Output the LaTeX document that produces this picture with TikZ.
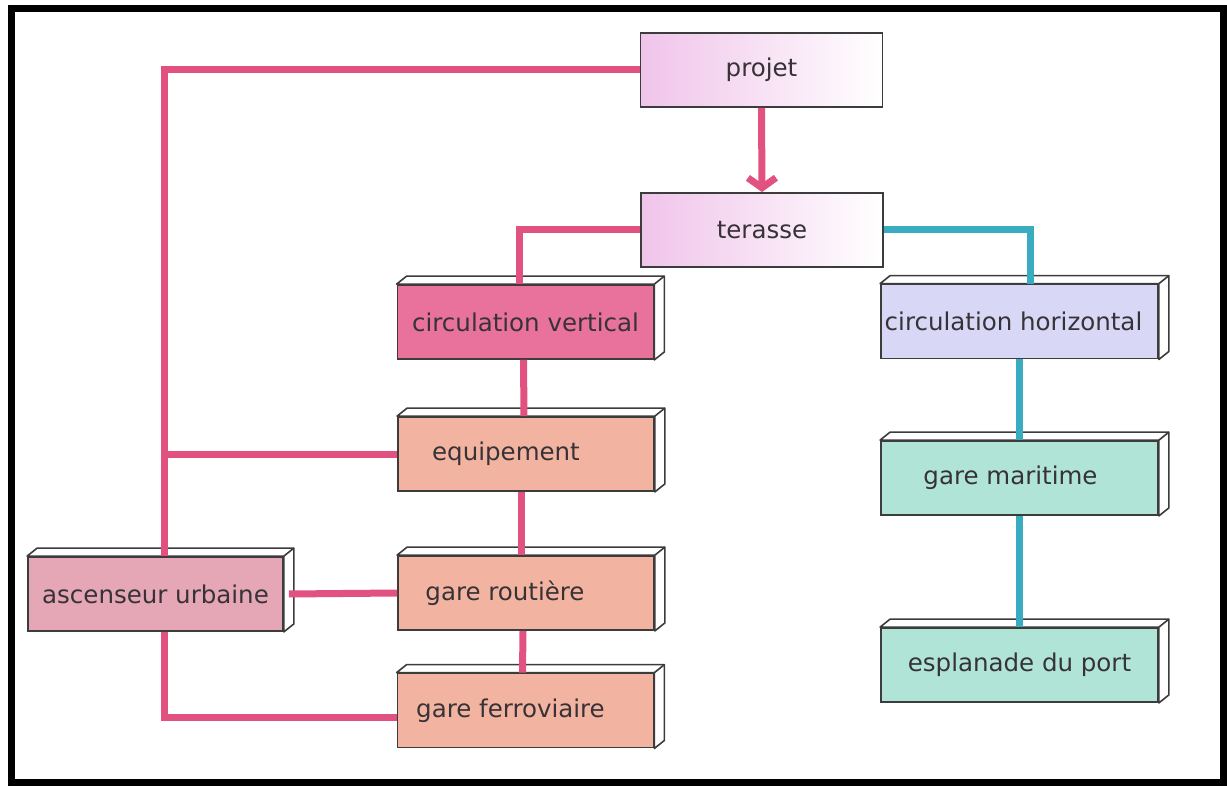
\documentclass[tikz,border=0pt]{standalone}
\usepackage{fontspec}
\setmainfont{DejaVu Sans}
\usepackage{xcolor}
\usetikzlibrary{arrows.meta,calc}

\definecolor{lienrose}{RGB}{226,82,128}
\definecolor{lienbleu}{RGB}{58,172,192}
\definecolor{bord}{RGB}{60,60,60}
\definecolor{texte}{RGB}{55,50,55}
\definecolor{rosetete}{RGB}{240,196,234}
\definecolor{rosevif}{RGB}{232,114,156}
\definecolor{peche}{RGB}{242,180,160}
\definecolor{roseasc}{RGB}{229,166,182}
\definecolor{lavande}{RGB}{216,216,246}
\definecolor{menthe}{RGB}{176,228,214}

% faces of the 3d blocks
\newcommand\relief[1]{%
  \draw[face] (#1.north west) -- ($(#1.north west)+(10pt,8pt)$) -- ($(#1.north east)+(10pt,8pt)$)
    -- ($(#1.south east)+(10pt,8pt)$) -- (#1.south east) -- (#1.north east) -- cycle;
  \draw[face] (#1.north east) -- ($(#1.north east)+(10pt,8pt)$);}

\begin{document}
\begin{tikzpicture}[x=1pt, y=-1pt,
  bloc/.style={draw=bord, line width=1.8pt, inner sep=0pt, minimum width=256pt, minimum height=74pt,
    text=texte, font=\fontsize{24.5}{28}\selectfont},
  tete/.style={bloc, minimum width=242pt, left color=rosetete, right color=white},
  face/.style={draw=bord, line width=1.6pt, fill=white, line join=round},
  lien/.style={draw=lienrose, line width=7pt},
  lienb/.style={draw=lienbleu, line width=7pt}]
\useasboundingbox (0,0) rectangle (1227,786);
\draw[line width=7pt] (11,9) rectangle (1223.5,782.5);

\node[tete] (projet) at (761.5,70) {projet};
\node[tete] (terasse) at (762,230) {terasse};
\node[bloc, fill=rosevif] (cvert) at (525.5,322) {circulation vertical};
\node[bloc, fill=peche] (equip) at (526,454) {equipement\hspace*{40pt}};
\node[bloc, fill=peche] (groutiere) at (526,593) {gare routière\hspace*{42pt}};
\node[bloc, fill=peche] (gferro) at (525.5,710.5) {gare ferroviaire\hspace*{30pt}};
\node[bloc, fill=roseasc, minimum width=255pt] (ascenseur) at (155.5,594) {ascenseur urbaine};
\node[bloc, fill=lavande, minimum width=277pt] (chor) at (1019.5,321.5) {circulation horizontal\hspace*{12pt}};
\node[bloc, fill=menthe, minimum width=277pt] (gmaritime) at (1019.5,478) {gare maritime\hspace*{18pt}};
\node[bloc, fill=menthe, minimum width=277pt] (esplanade) at (1019.5,665) {esplanade du port};

\relief{cvert}
\relief{equip}
\relief{groutiere}
\relief{gferro}
\relief{ascenseur}
\relief{chor}
\relief{gmaritime}
\relief{esplanade}

\draw[lien] (projet.west) -| coordinate[pos=.5] (coin) ([xshift=8.5pt]ascenseur.north);
\draw[lien, -{Straight Barb[length=10pt,width=28pt]}] (projet.south) -- (terasse.north);
\draw[lien] (terasse.west) -| ([xshift=-6.5pt]cvert.north);
\draw[lienb] (terasse.east) -| ([xshift=10.5pt]chor.north);
\draw[lien] ([xshift=-2pt]cvert.south) -- ([xshift=-2pt]equip.north);
\draw[lien] (equip.west) -- (equip.west -| coin);
\draw[lien] ([xshift=-5pt]equip.south) -- ([xshift=-5pt]groutiere.north);
\draw[lien] ([xshift=-3pt]groutiere.south) -- ([xshift=-3pt]gferro.north);
\draw[lien] ([xshift=5pt]ascenseur.east) -- (groutiere.west);
\draw[lien] ([xshift=8.5pt]ascenseur.south) |- ([yshift=-7pt]gferro.west);
\draw[lienb] (chor.south) -- (gmaritime.north);
\draw[lienb] (gmaritime.south) -- (esplanade.north);
\end{tikzpicture}
\end{document}
